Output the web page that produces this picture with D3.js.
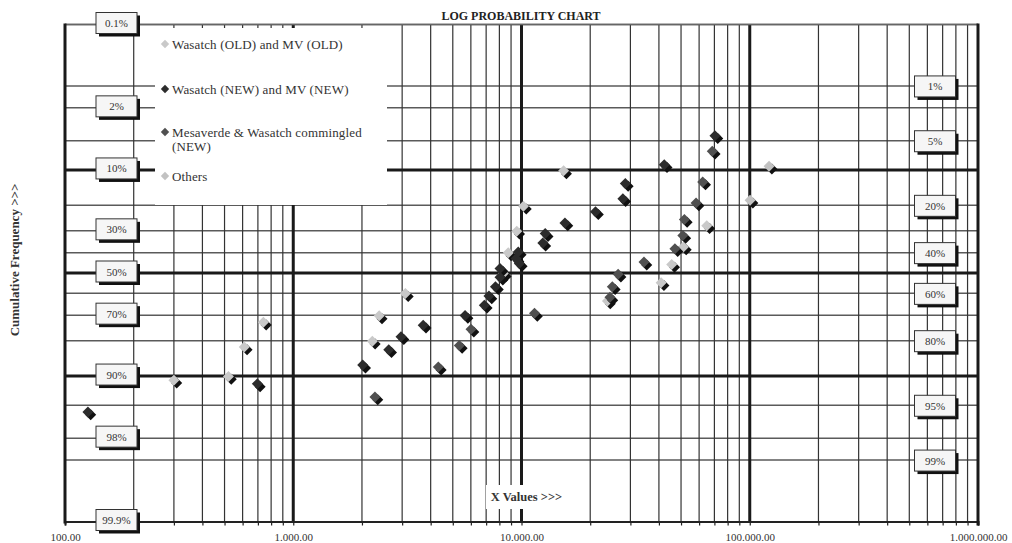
<!DOCTYPE html>
<html><head><meta charset="utf-8">
<script src="https://cdn.jsdelivr.net/npm/d3@7"></script>
<style>
body{margin:0;background:#fff}
svg{display:block}
text{font-family:"Liberation Serif","Times New Roman",serif}
</style>
</head><body>
<svg id="c" width="1012" height="543"></svg>
<script>
// ---------- data ----------
const seriesNames = ["Wasatch (OLD) and MV (OLD)", "Wasatch (NEW) and MV (NEW)", "Mesaverde & Wasatch commingled (NEW)", "Others"];
const seriesColors = ["#c9c9c9", "#2c2c2c", "#505050", "#c2c2c2"];

const s1X = [300, 520, 610, 740, 2220, 2380, 3100, 8320, 8750, 9530, 10200, 15300, 23800, 40900, 45500, 51200, 64800];
const s1P = [90.9, 90.1, 82.1, 73.0, 80.2, 70.3, 60.1, 50.3, 40.1, 30.2, 20.3, 10.2, 63.6, 54.8, 45.8, 37.3, 27.8];

const s2X = [126, 696, 2015, 2620, 2965, 3710, 5660, 6870, 7200, 7690, 8050, 8050, 9780, 9460, 9680, 12400, 12700, 15500, 21100, 27800, 28500, 42200, 70400];
const s2P = [95.8, 91.6, 87.4, 83.0, 78.6, 74.2, 70.1, 65.6, 61.2, 56.8, 52.1, 47.8, 45.3, 42.9, 39.7, 35.5, 31.2, 26.7, 22.3, 17.8, 13.3, 8.9, 4.4];

const s3X = [2280, 4320, 5340, 6010, 11400, 24400, 25000, 26500, 34400, 47000, 50900, 51700, 58200, 62200, 68500];
const s3P = [93.85, 87.9, 81.6, 75.8, 69.2, 61.9, 56.8, 50.6, 44.6, 38.1, 32.0, 25.3, 19.2, 12.9, 6.5];

const s4X = [100300, 121500];
const s4P = [18.3, 9.2];

const pctLines = [0.1, 1, 2, 5, 10, 20, 30, 40, 50, 60, 70, 80, 90, 95, 98, 99, 99.9];
const pctThick = [10, 50, 90];
const leftPct = [0.1, 2, 10, 30, 50, 70, 90, 98, 99.9];
const rightPct = [1, 5, 20, 40, 60, 80, 95, 99];
const xDecades = [100, 1000, 10000, 100000, 1000000];

const titleText = "LOG PROBABILITY CHART";
const yTitle = "Cumulative Frequency >>>";
const xTitle = "X Values >>>";

// ---------- helpers ----------
function probit(p) {
  const a = [-3.969683028665376e+01, 2.209460984245205e+02, -2.759285104469687e+02, 1.383577518672690e+02, -3.066479806614716e+01, 2.506628277459239e+00];
  const b = [-5.447609879822406e+01, 1.615858368580409e+02, -1.556989798598866e+02, 6.680131188771972e+01, -1.328068155288572e+01];
  const c = [-7.784894002430293e-03, -3.223964580411365e-01, -2.400758277161838e+00, -2.549732539343734e+00, 4.374664141464968e+00, 2.938163982698783e+00];
  const d = [7.784695709041462e-03, 3.224671290700398e-01, 2.445134137142996e+00, 3.754408661907416e+00];
  const plow = 0.02425, phigh = 1 - plow;
  let q, r;
  if (p < plow) {
    q = Math.sqrt(-2 * Math.log(p));
    return (((((c[0]*q+c[1])*q+c[2])*q+c[3])*q+c[4])*q+c[5]) / ((((d[0]*q+d[1])*q+d[2])*q+d[3])*q+1);
  } else if (p <= phigh) {
    q = p - 0.5; r = q*q;
    return (((((a[0]*r+a[1])*r+a[2])*r+a[3])*r+a[4])*r+a[5])*q / (((((b[0]*r+b[1])*r+b[2])*r+b[3])*r+b[4])*r+1);
  } else {
    q = Math.sqrt(-2 * Math.log(1 - p));
    return -(((((c[0]*q+c[1])*q+c[2])*q+c[3])*q+c[4])*q+c[5]) / ((((d[0]*q+d[1])*q+d[2])*q+d[3])*q+1);
  }
}

const L = 65, R = 978, T = 24.5, B = 521.5;
const svg = d3.select("#c");
const x = d3.scaleLog().domain([100, 1000000]).range([L, R]);
const zScale = d3.scaleLinear().domain([probit(0.001), probit(0.999)]).range([T, B]);
const y = p => zScale(probit(p / 100));

const locale = d3.formatLocale({decimal: ".", thousands: ".", grouping: [3], currency: ["", ""]});
const fmt = locale.format(",.2f");

const minorTicks = x.ticks().filter(v => !xDecades.includes(v));

const g = svg.append("g");

// horizontal thin lines
g.selectAll("line.h").data(pctLines.filter(p => !pctThick.includes(p) && p !== 99.9)).join("line")
  .attr("x1", L).attr("x2", R).attr("y1", d => y(d)).attr("y2", d => y(d))
  .attr("stroke", "#5a5a5a").attr("stroke-width", 1.5);

// vertical minor lines
g.selectAll("line.vm").data(minorTicks).join("line")
  .attr("x1", d => x(d)).attr("x2", d => x(d)).attr("y1", T).attr("y2", B)
  .attr("stroke", "#333").attr("stroke-width", 1.2);

// thick horizontal
g.selectAll("line.ht").data(pctThick).join("line")
  .attr("x1", L).attr("x2", R).attr("y1", d => y(d)).attr("y2", d => y(d))
  .attr("stroke", "#1a1a1a").attr("stroke-width", 3);

// thick vertical (decades inside)
g.selectAll("line.vt").data(xDecades.slice(1, -1)).join("line")
  .attr("x1", d => x(d)).attr("x2", d => x(d)).attr("y1", T).attr("y2", B)
  .attr("stroke", "#1a1a1a").attr("stroke-width", 3);

// bottom axis with small ticks
const axis = d3.axisBottom(x).tickValues(x.ticks()).tickSize(4).tickFormat(d => xDecades.includes(d) ? fmt(d) : "");
const ax = svg.append("g").attr("transform", `translate(0,${B})`).call(axis);
ax.select(".domain").attr("stroke", "#222").attr("stroke-width", 2);
ax.selectAll(".tick line").attr("stroke", "#222").attr("stroke-width", 1.2);
ax.selectAll(".tick text").attr("font-family", "Liberation Serif, serif").attr("font-size", 11).attr("fill", "#333").attr("dy", "0").attr("y", 19.5);

// borders
svg.append("line").attr("x1", L).attr("x2", R).attr("y1", T).attr("y2", T).attr("stroke", "#666").attr("stroke-width", 1.6);
svg.append("line").attr("x1", L).attr("x2", L).attr("y1", T - 1).attr("y2", B + 2).attr("stroke", "#1a1a1a").attr("stroke-width", 3);
svg.append("line").attr("x1", R).attr("x2", R).attr("y1", T - 1).attr("y2", B + 4).attr("stroke", "#1a1a1a").attr("stroke-width", 3);

// legend
const lg = svg.append("g");
lg.append("rect").attr("x", 155).attr("y", 28).attr("width", 232).attr("height", 177).attr("fill", "#fff");
const legendRows = [
  {lines: [seriesNames[0]], y: 44},
  {lines: [seriesNames[1]], y: 89},
  {lines: ["Mesaverde & Wasatch commingled", "(NEW)"], y: 132},
  {lines: [seriesNames[3]], y: 176}
];
const diamond = (cx, cy, h) => `M${cx},${cy - h}L${cx + h},${cy}L${cx},${cy + h}L${cx - h},${cy}Z`;
legendRows.forEach((r, i) => {
  lg.append("path").attr("d", diamond(165, r.y, 4.2)).attr("fill", seriesColors[i]);
  r.lines.forEach((t, j) => {
    lg.append("text").attr("x", 172).attr("y", r.y + 4.5 + j * 14.5).attr("font-size", 13).attr("fill", "#333")
      .attr("letter-spacing", 0.15).text(t);
  });
});

// points
const allSeries = [[s1X, s1P], [s2X, s2P], [s3X, s3P], [s4X, s4P]];
const pg = svg.append("g");
allSeries.forEach(([xs, ps], i) => {
  const pts = xs.map((v, k) => ({x: v, p: ps[k]}));
  const gg = pg.append("g");
  gg.selectAll("path.s").data(pts).join("path")
    .attr("d", d => diamond(x(d.x) + 2.8, y(d.p) + 2.8, 5.5)).attr("fill", "#111");
  gg.selectAll("path.f").data(pts).join("path")
    .attr("d", d => diamond(x(d.x), y(d.p), 5.5)).attr("fill", seriesColors[i]);
});

// label boxes
function labelBox(cx, cy, txt) {
  const w = 41, h = 21;
  const bx = cx - w / 2, by = cy - h / 2;
  svg.append("rect").attr("x", bx + 3).attr("y", by + 3).attr("width", w).attr("height", h).attr("fill", "#111");
  svg.append("rect").attr("x", bx).attr("y", by).attr("width", w).attr("height", h).attr("fill", "#f6f6f6")
    .attr("stroke", "#333").attr("stroke-width", 1);
  svg.append("text").attr("x", cx).attr("y", cy + 4).attr("text-anchor", "middle").attr("font-size", 11)
    .attr("fill", "#333").text(txt);
}
leftPct.forEach(p => labelBox(116.5, y(p) - 1.5, p + "%"));
rightPct.forEach(p => labelBox(935, y(p) + 0.5, p + "%"));

// X title with white background
svg.append("rect").attr("x", 486).attr("y", 485).attr("width", 81).attr("height", 24).attr("fill", "#fff");
svg.append("text").attr("x", 526.5).attr("y", 501).attr("text-anchor", "middle").attr("font-size", 12.5)
  .attr("font-weight", "bold").attr("fill", "#333").text(xTitle);

// chart title
svg.append("text").attr("x", 521).attr("y", 20).attr("text-anchor", "middle").attr("font-size", 12)
  .attr("font-weight", "bold").attr("fill", "#222").text(titleText);

// y title
svg.append("text").attr("transform", "translate(19,260) rotate(-90)").attr("text-anchor", "middle")
  .attr("font-size", 13).attr("font-weight", "bold").attr("fill", "#333").text(yTitle);
</script>
</body></html>
